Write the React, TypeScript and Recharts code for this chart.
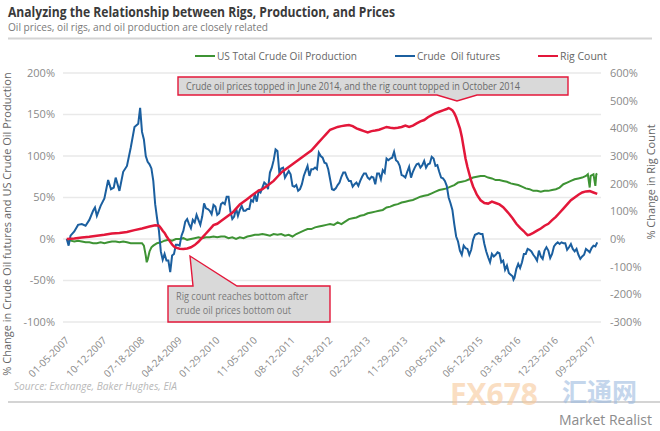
import React from 'react';
import { LineChart, Line, XAxis, YAxis, CartesianGrid } from 'recharts';

const xTickWeeks = [0, 40, 80, 120, 160, 200, 240, 280, 320, 360, 400, 440, 480, 520, 560];
const xTickLabels = [
  '01-05-2007', '10-12-2007', '07-18-2008', '04-24-2009', '01-29-2010', '11-05-2010', '08-12-2011',
  '05-18-2012', '02-22-2013', '11-29-2013', '09-05-2014', '06-12-2015', '03-18-2016', '12-23-2016', '09-29-2017',
];
const leftTicks = [-100, -50, 0, 50, 100, 150, 200];
const rightTicks = [-300, -200, -100, 0, 100, 200, 300, 400, 500, 600];

// [week index since 01-05-2007, % change]
const productionData: [number, number][] = [
  [0, 0], [4, -2], [8, -3], [12, -2], [16, -3], [20, -4], [24, -4], [28, -5], [32, -5], [36, -4], [40, -5], [44, -4], [48, -3],
  [52, -3], [56, -4], [60, -3], [64, -4], [68, -5], [72, -5], [76, -5], [80, -5], [82, -8], [84, -20], [85, -28], [86, -25], [88, -15], [90, -10], [92, -8], [96, -5], [100, -4], [104, -2],
  [108, -1], [112, -2], [116, 0], [120, 0], [124, 1], [128, -1], [132, 0], [136, 1], [140, 2], [144, 1], [148, 2], [152, 2], [156, 3],
  [160, 2], [164, 3], [168, 3], [172, 1], [176, 2], [180, 0], [184, 2], [188, 1], [192, 3], [196, 4], [200, 5], [204, 5], [208, 6],
  [212, 5], [216, 4], [220, 6], [224, 5], [228, 6], [232, 4], [236, 5], [240, 3], [244, 6], [248, 8], [252, 10], [256, 12], [260, 12],
  [264, 14], [268, 15], [272, 16], [276, 17], [280, 18], [284, 17], [288, 20], [292, 18], [296, 21], [300, 24], [304, 25], [308, 26], [312, 28],
  [316, 29], [320, 31], [324, 32], [328, 33], [332, 34], [336, 35], [340, 38], [344, 39], [348, 41], [352, 42], [356, 44], [360, 45], [364, 46],
  [368, 47], [372, 49], [376, 51], [380, 52], [384, 53], [388, 55], [392, 57], [396, 59], [400, 60], [404, 61], [408, 63], [412, 65], [416, 68],
  [420, 69], [424, 70], [428, 72], [432, 74], [436, 75], [440, 76], [444, 76], [448, 74], [452, 73], [456, 71], [460, 71], [464, 70], [468, 69],
  [472, 67], [476, 66], [480, 65], [484, 63], [488, 61], [492, 60], [496, 58], [500, 58], [504, 57], [508, 58], [512, 58], [516, 59], [520, 60],
  [524, 62], [528, 66], [532, 68], [536, 70], [540, 72], [544, 73], [548, 74], [552, 76], [554, 78], [556, 62], [557, 76], [560, 78], [562, 64], [563, 78], [564, 79],
];

const futuresData: [number, number][] = [
  [0, 0], [2, -8], [4, 4], [8, 9], [12, 17], [16, 18], [20, 16], [24, 23], [28, 34], [30, 38], [32, 28], [36, 40], [40, 49], [44, 71], [47, 60], [50, 62],
  [52, 74], [56, 58], [60, 81], [64, 88], [68, 110], [72, 135], [76, 139], [78, 158], [80, 129], [82, 120], [84, 100], [86, 93], [88, 90], [90, 85], [92, 70], [94, 42], [96, 25], [98, 10], [100, -15], [102, -25], [104, -18],
  [106, -26], [108, -26], [110, -40], [112, -20], [114, -18], [116, -7], [118, -7], [120, -8], [122, 4], [124, 10], [126, 21], [128, 24], [130, 18], [132, 13], [134, 23], [136, 20], [138, 29], [140, 23], [142, 17], [144, 27], [146, 43], [148, 37], [150, 36], [152, 34], [154, 30], [156, 41],
  [158, 39], [160, 29], [162, 31], [164, 42], [166, 44], [168, 42], [170, 51], [172, 51], [174, 33], [176, 24], [178, 27], [180, 37], [182, 28], [184, 35], [186, 40], [188, 34], [190, 34], [192, 36], [194, 36], [196, 47], [198, 45], [200, 54], [202, 45], [204, 58], [206, 56], [208, 62],
  [210, 68], [212, 66], [214, 60], [216, 80], [218, 86], [220, 95], [222, 108], [224, 106], [226, 80], [228, 85], [230, 86], [232, 74], [234, 78], [236, 82], [238, 78], [240, 64], [242, 63], [244, 65], [246, 58], [248, 60], [250, 66], [252, 76], [254, 82], [256, 88], [258, 76], [260, 84],
  [262, 84], [264, 86], [266, 84], [268, 104], [270, 100], [272, 98], [274, 92], [276, 91], [278, 84], [280, 72], [282, 60], [284, 59], [286, 61], [288, 65], [290, 68], [292, 75], [294, 80], [296, 80], [298, 74], [300, 70], [302, 70], [304, 63], [306, 66], [308, 68], [310, 64], [312, 70],
  [314, 75], [316, 79], [318, 79], [320, 74], [322, 72], [324, 75], [326, 74], [328, 66], [330, 79], [332, 79], [334, 72], [336, 83], [338, 80], [340, 97], [342, 95], [344, 97], [346, 98], [348, 105], [350, 95], [352, 93], [354, 88], [356, 77], [358, 76], [360, 74], [362, 81], [364, 87],
  [366, 74], [368, 81], [370, 86], [372, 90], [374, 91], [376, 86], [378, 89], [380, 94], [382, 86], [384, 90], [386, 91], [388, 99], [390, 97], [392, 88], [394, 89], [396, 81], [398, 74], [400, 73], [402, 70], [404, 64], [406, 50], [408, 43], [410, 35], [412, 18], [414, 3], [416, -3],
  [418, -14], [420, -19], [422, -8], [424, -11], [426, -12], [428, -19], [430, -13], [432, -1], [434, 5], [436, 6], [438, 7], [440, 6], [442, 6], [444, -6], [446, -15], [448, -22], [450, -28], [452, -18], [454, -21], [456, -19], [458, -16], [460, -17], [462, -28], [464, -26], [466, -37], [468, -32],
  [470, -41], [472, -43], [474, -45], [475, -49], [476, -47], [478, -36], [480, -30], [482, -35], [484, -28], [486, -18], [488, -18], [490, -12], [492, -13], [494, -15], [496, -19], [498, -22], [500, -26], [502, -14], [504, -21], [506, -24], [508, -14], [510, -10], [512, -14], [514, -23], [516, -18], [518, -9], [520, -6],
  [522, -4], [524, -6], [526, -4], [528, -5], [530, -5], [532, -13], [534, -10], [536, -6], [538, -12], [540, -15], [542, -12], [544, -19], [546, -24], [548, -21], [550, -19], [552, -12], [554, -14], [556, -16], [558, -11], [560, -8], [562, -9], [564, -4],
];

const rigData: [number, number][] = [
  [0, 0], [8, 2], [16, 5], [24, 8], [32, 12], [40, 15], [48, 20],
  [56, 22], [64, 25], [72, 32], [80, 38], [88, 45], [94, 50], [98, 48], [100, 40], [102, 30], [104, 22],
  [106, 10], [108, 0], [110, -10], [112, -20], [114, -27], [116, -31], [120, -35], [124, -36], [128, -34], [132, -30], [136, -22], [140, -10], [144, 5], [148, 20], [152, 35], [156, 50],
  [160, 55], [164, 65], [168, 75], [172, 85], [176, 95], [180, 110], [184, 125], [188, 135], [192, 145], [196, 155], [200, 165], [204, 175], [208, 180],
  [212, 190], [216, 200], [220, 210], [224, 225], [228, 240], [232, 250], [236, 260], [240, 270], [244, 280], [248, 290], [252, 300], [256, 310], [260, 320],
  [264, 335], [268, 350], [272, 365], [276, 380], [280, 395], [284, 400], [288, 405], [292, 408], [296, 410], [300, 412], [304, 408], [308, 400], [312, 395],
  [316, 390], [320, 385], [324, 390], [328, 392], [332, 395], [336, 400], [340, 405], [344, 402], [348, 400], [352, 402], [356, 405], [360, 410], [364, 405],
  [368, 410], [372, 418], [376, 425], [380, 430], [384, 440], [388, 448], [392, 455], [396, 460], [400, 465], [404, 470], [406, 473], [408, 470], [410, 465], [412, 455], [414, 440], [416, 420],
  [418, 400], [420, 370], [422, 330], [424, 290], [426, 260], [428, 235], [430, 210], [432, 190], [434, 175], [436, 160], [438, 150], [440, 140], [444, 130], [448, 128], [452, 135], [456, 130], [460, 125], [464, 115], [468, 100],
  [470, 92], [474, 75], [478, 55], [482, 40], [486, 28], [488, 20], [490, 14], [492, 15], [496, 22], [500, 30], [504, 38], [508, 48], [512, 55], [516, 68], [520, 80],
  [524, 95], [528, 110], [532, 125], [536, 140], [540, 150], [544, 160], [548, 168], [552, 172], [556, 173], [560, 168], [564, 163],
];

const toPoints = (arr: [number, number][]) => arr.map(([w, v]) => ({ w, v }));

const GREEN = '#3e9334';
const BLUE = '#1b5f9f';
const RED = '#e3173a';
const FONT = '"Open Sans", "Noto Sans", sans-serif';

const XTick = (props: any) => {
  const { x, y, payload } = props;
  const idx = xTickWeeks.indexOf(payload.value);
  const ax = x + 3;
  const ay = y + 17;
  return (
    <text x={ax} y={ay} transform={`rotate(-45 ${ax} ${ay})`} textAnchor="end" fill="#8a8a8a" fontSize={10} fontFamily={FONT}>
      {idx >= 0 ? xTickLabels[idx] : ''}
    </text>
  );
};

const legendItems = [
  { label: 'US Total Crude Oil Production', color: GREEN, x: 195, w: 140 },
  { label: 'Crude  Oil futures', color: BLUE, x: 395, w: 83 },
  { label: 'Rig Count', color: RED, x: 538, w: 47 },
];

export default function App() {
  return (
    <div style={{ position: 'absolute', left: 0, top: 0, width: 660, height: 431, background: '#fff', fontFamily: FONT, overflow: 'hidden' }}>
      <LineChart width={660} height={431} data={toPoints(futuresData)} margin={{ top: 73, right: 9, bottom: 49, left: 13 }} style={{ position: 'absolute', left: 0, top: 0 }}>
        <CartesianGrid yAxisId="left" vertical={false} stroke="#e9e9e9" strokeWidth={1.5} />
        <XAxis dataKey="w" type="number" domain={[-4, 568]} ticks={xTickWeeks} interval={0} tick={<XTick />} tickLine={false} axisLine={false} height={60} tickSize={0} />
        <YAxis yAxisId="left" orientation="left" width={50} domain={[-100, 200]} ticks={leftTicks} interval={0} tickFormatter={(v: number) => `${v}%`} tickLine={false} axisLine={false} tickSize={0} tickMargin={8} tick={{ fill: '#8a8a8a', fontSize: 11, fontFamily: FONT }} />
        <YAxis yAxisId="right" orientation="right" width={50} domain={[-300, 600]} ticks={rightTicks} interval={0} tickFormatter={(v: number) => `${v}%`} tickLine={false} axisLine={false} tickSize={0} tickMargin={9} tick={{ fill: '#8a8a8a', fontSize: 11, fontFamily: FONT, textAnchor: 'start' }} />
        <Line yAxisId="left" data={toPoints(productionData)} dataKey="v" stroke={GREEN} strokeWidth={2} dot={false} isAnimationActive={false} />
        <Line yAxisId="left" data={toPoints(futuresData)} dataKey="v" stroke={BLUE} strokeWidth={2} dot={false} isAnimationActive={false} />
        <Line yAxisId="right" data={toPoints(rigData)} dataKey="v" stroke={RED} strokeWidth={2.5} dot={false} isAnimationActive={false} />
      </LineChart>
      <svg width={660} height={431} style={{ position: 'absolute', left: 0, top: 0, pointerEvents: 'none' }}>
        <text x={8} y={17} fontSize={14} fontWeight={700} fill="#3a3a3a" fontFamily={FONT} textLength={387} lengthAdjust="spacingAndGlyphs">Analyzing the Relationship between Rigs, Production, and Prices</text>
        <text x={8} y={31} fontSize={10.5} fill="#7a7a7a" fontFamily={FONT} textLength={260} lengthAdjust="spacingAndGlyphs">Oil prices, oil rigs, and oil production are closely related</text>
        <line x1={8} y1={38.5} x2={652} y2={38.5} stroke="#d4d4d4" strokeWidth={2} />
        {legendItems.map((it) => (
          <g key={it.label}>
            <line x1={it.x} y1={56} x2={it.x + 20} y2={56} stroke={it.color} strokeWidth={2} />
            <text x={it.x + 22} y={60} fontSize={11} fill="#666" fontFamily={FONT} textLength={it.w} lengthAdjust="spacingAndGlyphs" style={{ whiteSpace: 'pre' }}>{it.label}</text>
          </g>
        ))}
        <text transform="translate(11 224) rotate(-90)" textAnchor="middle" fontSize={11} fill="#666" fontFamily={FONT}>% Change in Crude Oil futures and US Crude Oil Production</text>
        <text transform="translate(655 182) rotate(-90)" textAnchor="middle" fontSize={11} fill="#666" fontFamily={FONT}>% Change in Rig Count</text>
        <path d="M178 77 L568 77 L568 95 L477 95 L457 101 L437 95 L178 95 Z" fill="#d9d9d9" stroke={RED} strokeWidth={1.4} />
        <text x={186} y={90} fontSize={10.5} fill="#6a6a6a" fontFamily={FONT} textLength={334} lengthAdjust="spacingAndGlyphs">Crude oil prices topped in June 2014, and the rig count topped in October 2014</text>
        <path d="M168 286 L193 286 L190 256 L237 286 L330 286 L330 322 L168 322 Z" fill="#d9d9d9" stroke={RED} strokeWidth={1.4} />
        <text x={176} y={300} fontSize={10.5} fill="#7a7a7a" fontFamily={FONT} textLength={132} lengthAdjust="spacingAndGlyphs">Rig count reaches bottom after</text>
        <text x={176} y={314} fontSize={10.5} fill="#7a7a7a" fontFamily={FONT} textLength={115} lengthAdjust="spacingAndGlyphs">crude oil prices bottom out</text>
        <text x={14} y={390} fontSize={10.5} fontStyle="italic" fill="#b8b8b8" fontFamily={FONT} textLength={163} lengthAdjust="spacingAndGlyphs">Source: Exchange, Baker Hughes, EIA</text>
        <line x1={8} y1={402} x2={660} y2={402} stroke="#d4d4d4" strokeWidth={2} />
        <text x={450} y={405} fontSize={30} fontWeight={700} fill="#f7c99a" opacity={0.6} fontFamily={FONT}>FX678</text>
        <text x={562} y={401} fontSize={25} fontWeight={700} fill="#9dbbe0" opacity={0.6} fontFamily='"Noto Sans CJK SC", sans-serif'>汇通网</text>
        <text x={559} y={425} fontSize={14} fill="#8c8c8c" fontFamily={FONT}>Market Realist</text>
      </svg>
    </div>
  );
}
